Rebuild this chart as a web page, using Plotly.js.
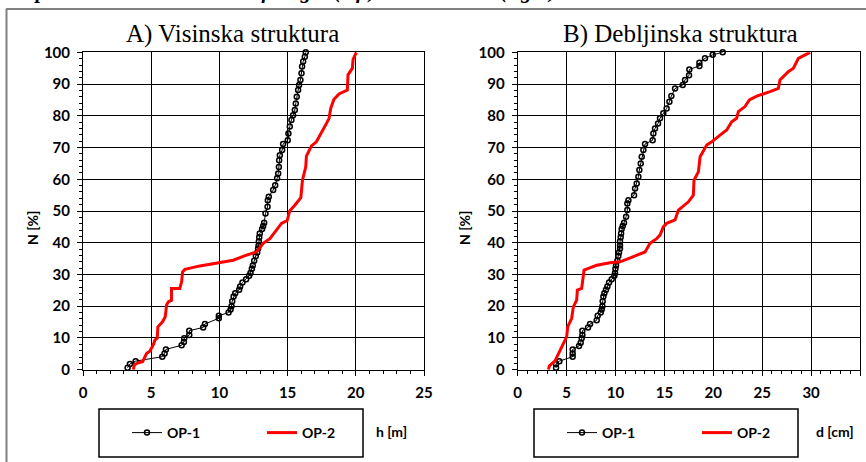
<!DOCTYPE html>
<html>
<head>
<meta charset="utf-8">
<script src="https://cdn.plot.ly/plotly-3.0.1.min.js"></script>
<style>html,body{margin:0;padding:0;background:#fff;overflow:hidden;}#chart{width:866px;height:462px;}</style>
</head>
<body>
<div id="chart"></div>
<script>
// A) height structure
var hOP1 = [3.27,3.44,3.86,5.81,5.98,6.08,7.23,7.40,7.42,7.79,7.79,8.81,8.94,9.96,9.96,10.67,10.82,10.89,10.94,11.04,11.16,11.45,11.52,11.69,11.96,12.18,12.28,12.38,12.45,12.55,12.67,12.77,12.84,12.87,12.89,12.92,12.96,13.13,13.21,13.28,13.38,13.53,13.55,13.62,13.94,14.09,14.23,14.31,14.36,14.38,14.43,14.60,14.67,15.01,15.06,15.16,15.28,15.40,15.53,15.60,15.67,15.77,15.84,15.94,16.02,16.06,16.14,16.26,16.33];
var nOP1h = [0.6,1.8,2.7,4.1,5.1,6.4,7.7,8.7,9.9,10.9,12.3,13.3,14.4,16.2,17.0,18.0,19.0,20.0,21.6,23.1,24.1,25.2,26.2,27.5,28.5,29.6,30.5,31.8,32.8,34.3,35.8,36.9,38.2,39.1,40.4,41.7,42.9,44.3,45.3,46.3,49.2,51.3,53.4,54.5,56.6,58.1,60.3,61.8,63.9,66.0,67.6,69.2,71.1,72.3,74.4,76.6,78.7,80.2,81.8,83.9,86.0,88.1,89.7,91.3,93.4,95.5,97.1,98.6,100];
var hOP2 = [3.69,3.76,4.05,4.37,4.66,4.91,5.15,5.27,5.44,5.49,5.83,6.03,6.13,6.25,6.49,6.49,7.10,7.23,7.30,7.47,8.57,9.79,11.01,11.99,12.72,13.21,13.70,14.18,14.55,14.97,15.16,15.53,15.97,16.09,16.33,16.38,16.75,17.11,17.55,17.85,18.04,18.16,18.40,18.77,19.38,19.43,19.75,19.80,20.04];
var nOP2h = [0,1.5,2.2,2.5,5.1,5.9,7.8,9.3,9.9,13.5,15.1,16.7,20.4,21.4,21.9,25.6,25.6,27.7,30.8,31.6,32.7,33.6,34.5,36.1,37.1,39.8,41.3,44.0,46.1,47.0,50.1,51.8,54.2,59.7,63.9,67.3,70.5,71.8,75.0,77.6,79.2,82.3,85.2,86.9,88.1,92.9,95.0,97.8,100];
// B) diameter structure
var dOP1 = [3.92,3.92,4.26,5.62,5.62,5.62,6.27,6.44,6.54,6.61,6.61,7.19,7.40,8.08,8.18,8.49,8.59,8.66,8.69,8.76,8.86,9.03,9.17,9.34,9.61,9.88,9.95,9.99,10.05,10.19,10.29,10.36,10.46,10.46,10.46,10.53,10.57,10.63,10.74,10.87,11.08,11.21,11.21,11.32,11.90,12.00,12.17,12.34,12.44,12.58,12.68,12.85,13.02,13.80,13.87,14.04,14.35,14.55,14.89,15.23,15.51,15.71,16.09,16.87,17.11,17.52,17.55,18.58,18.58,19.15,19.94,20.96];
var nOP1d = [0.6,1.8,2.7,4.1,5.1,6.4,7.5,8.5,9.9,10.9,12.3,13.3,14.4,15.6,17.0,18.0,19.0,20.0,21.6,23.1,24.1,25.2,26.2,27.5,28.5,29.6,30.5,31.8,32.8,34.3,35.8,36.9,38.2,39.1,40.4,41.7,42.9,44.3,45.3,46.3,48.2,50.3,52.4,53.4,55.0,57.1,58.7,60.8,62.9,65.0,67.1,69.2,71.1,72.3,74.4,76.0,77.6,79.2,80.8,82.3,84.4,86.2,88.6,89.7,91.3,92.8,94.6,95.7,96.7,98.1,99.2,100];
var dOP2 = [3.14,3.24,3.82,4.16,4.60,5.01,5.11,5.52,5.69,6.03,6.10,6.54,6.65,6.78,7.23,8.08,9.44,10.46,11.32,12.17,13.02,13.53,14.21,14.55,14.89,15.23,16.09,16.43,17.46,17.96,18.03,18.48,18.65,19.33,19.84,20.69,21.37,21.88,22.39,22.56,23.24,23.69,24.44,25.80,26.65,26.82,27.67,28.19,28.70,29.89];
var nOP2d = [0,1.2,2.8,5.1,7.8,10.4,13.5,16.2,19.8,21.9,25.1,25.6,28.2,31.4,31.9,32.9,33.7,34.0,35.0,36.1,37.1,39.8,41.3,42.4,45.0,46.1,47.2,50.3,52.9,55.0,59.7,62.4,67.1,70.8,71.8,73.9,75.5,78.1,79.2,81.3,82.9,85.0,86.2,87.6,88.6,91.3,93.9,95.0,98.1,100];

var seriesNames = ['OP-1','OP-2'];
var panelTitles = ['A) Visinska struktura','B) Debljinska struktura'];
var xTitles = ['h [m]','d [cm]'];
var yTitle = 'N [%]';
var caption = 'Graph 1. Cumulative curves of height (left) and diameter (right) structure';

var W = 866, H = 462;
function px(x){return x/W;}
function py(y){return 1 - y/H;}

var tickFont = {family:'Lato, sans-serif', size:15, color:'#000', weight:'bold'};
var op1Style = {mode:'lines+markers', line:{color:'#000', width:1}, marker:{symbol:'circle-open', size:5, color:'#000', line:{width:1.5, color:'#000'}}, cliponaxis:false};
var op2Style = {mode:'lines', line:{color:'#ff0000', width:3}, cliponaxis:false};

function tr(base, o){ return Object.assign({}, base, o); }

var data = [
  tr(op1Style, {x:hOP1, y:nOP1h, name:seriesNames[0], xaxis:'x', yaxis:'y', legend:'legend'}),
  tr(op2Style, {x:hOP2, y:nOP2h, name:seriesNames[1], xaxis:'x', yaxis:'y', legend:'legend'}),
  tr(op1Style, {x:dOP1, y:nOP1d, name:seriesNames[0], xaxis:'x2', yaxis:'y2', legend:'legend2'}),
  tr(op2Style, {x:dOP2, y:nOP2d, name:seriesNames[1], xaxis:'x2', yaxis:'y2', legend:'legend2'})
];

function axis(o){
  return Object.assign({
    showgrid:true, gridcolor:'#000', gridwidth:1,
    showline:true, linecolor:'#000', linewidth:1, mirror:true,
    ticks:'outside', ticklen:5, tickcolor:'#000', tickwidth:1,
    zeroline:false, tickfont:tickFont, fixedrange:true, automargin:false
  }, o);
}
function minor(d){ return {dtick:d, ticks:'outside', ticklen:3, tickcolor:'#000', showgrid:false}; }

var yDom = [py(369.7), py(52.3)];
var legFont = {family:'Lato, sans-serif', size:14, color:'#000', weight:'bold'};
var titleFont = {family:'Liberation Serif, serif', size:25, color:'#000'};

var layout = {
  width:W, height:H,
  margin:{l:0,r:0,t:0,b:0,pad:0, autoexpand:false},
  paper_bgcolor:'#fff', plot_bgcolor:'#fff',
  xaxis: axis({domain:[px(83),px(424)], range:[0,25], dtick:5, tick0:0, anchor:'y', minor:minor(1), ticklabelstandoff:4}),
  yaxis: axis({domain:yDom, range:[0,100], dtick:10, tick0:0, anchor:'x', minor:minor(2), ticklabelstandoff:4}),
  xaxis2: axis({domain:[px(517.7),px(860)], range:[0,35], dtick:5, tick0:0, anchor:'y2', minor:minor(1), ticklabelstandoff:4}),
  yaxis2: axis({domain:yDom, range:[0,100], dtick:10, tick0:0, anchor:'x2', minor:minor(2), ticklabelstandoff:4}),
  showlegend:true,
  legend:{x:px(127), y:py(433), xanchor:'left', yanchor:'middle', orientation:'h', entrywidth:90, entrywidthmode:'pixels', bgcolor:'rgba(0,0,0,0)', borderwidth:0, font:legFont, tracegroupgap:0},
  legend2:{x:px(562), y:py(433), xanchor:'left', yanchor:'middle', orientation:'h', entrywidth:90, entrywidthmode:'pixels', bgcolor:'rgba(0,0,0,0)', borderwidth:0, font:legFont, tracegroupgap:0},
  shapes:[
    {type:'rect', xref:'paper', yref:'paper', x0:px(99), x1:px(363), y0:py(457), y1:py(409), line:{color:'#000', width:1.5}},
    {type:'rect', xref:'paper', yref:'paper', x0:px(534), x1:px(798), y0:py(457), y1:py(409), line:{color:'#000', width:1.5}},
    {type:'line', xref:'paper', yref:'paper', x0:px(6), x1:1, y0:py(9), y1:py(9), line:{color:'#000', width:1}},
    {type:'line', xref:'paper', yref:'paper', x0:px(6.5), x1:px(6.5), y0:py(9), y1:0, line:{color:'#808080', width:2}}
  ],
  annotations:[
    {text:'<b><i>'+caption+'</i></b>', xref:'paper', yref:'paper', x:px(0), xanchor:'left', y:py(-9), yanchor:'middle', showarrow:false, font:{family:'Liberation Serif, serif', size:21, color:'#000'}},
    {text:panelTitles[0], xref:'paper', yref:'paper', x:px(232), y:py(34), xanchor:'center', yanchor:'middle', showarrow:false, font:titleFont},
    {text:panelTitles[1], xref:'paper', yref:'paper', x:px(680), y:py(34), xanchor:'center', yanchor:'middle', showarrow:false, font:titleFont},
    {text:yTitle, xref:'paper', yref:'paper', x:px(33), y:py(228), xanchor:'center', yanchor:'middle', textangle:-90, showarrow:false, font:legFont},
    {text:yTitle, xref:'paper', yref:'paper', x:px(465), y:py(228), xanchor:'center', yanchor:'middle', textangle:-90, showarrow:false, font:legFont},
    {text:xTitles[0], xref:'paper', yref:'paper', x:px(391), y:py(431), xanchor:'center', yanchor:'middle', showarrow:false, font:legFont},
    {text:xTitles[1], xref:'paper', yref:'paper', x:px(835), y:py(431), xanchor:'center', yanchor:'middle', showarrow:false, font:legFont}
  ]
};

Plotly.newPlot('chart', data, layout, {displayModeBar:false, staticPlot:true});
</script>
</body>
</html>
